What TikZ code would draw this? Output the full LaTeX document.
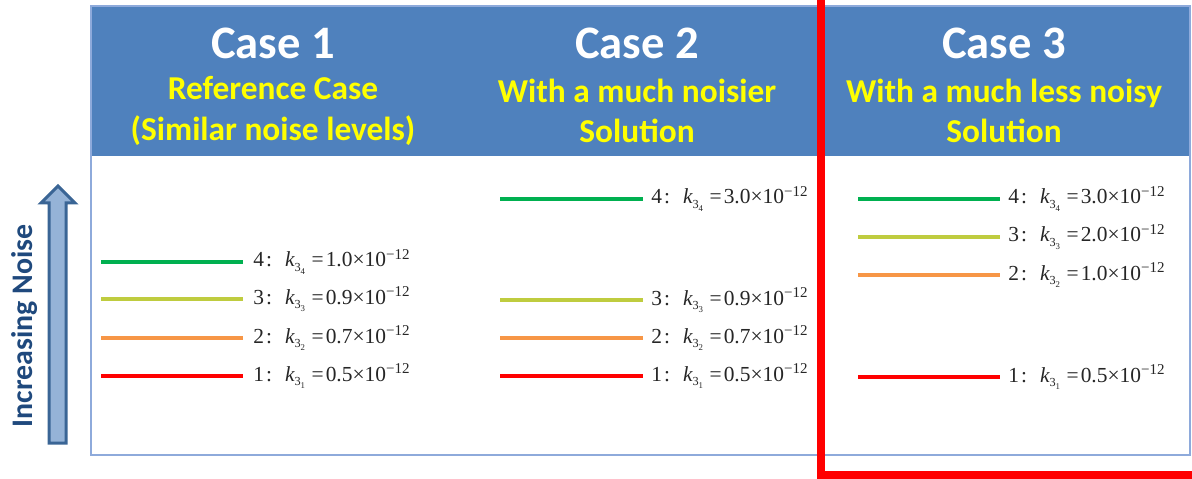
\documentclass[tikz,border=0pt]{standalone}
\usepackage{fontspec}
\setmainfont{Carlito}
\newfontfamily\valfont{Liberation Serif}
\usepackage{tikz}
\usetikzlibrary{positioning}
\definecolor{HeadBlue}{HTML}{4F81BD}
\definecolor{EdgeBlue}{HTML}{8EAADB}
\definecolor{ArrowFill}{HTML}{95B3D7}
\definecolor{ArrowEdge}{HTML}{3A6595}
\definecolor{NoiseText}{HTML}{1F497D}
\definecolor{CaseYellow}{HTML}{FFFF00}
\definecolor{LevelFour}{HTML}{00B050}
\definecolor{LevelThree}{HTML}{BFCC3F}
\definecolor{LevelTwo}{HTML}{F79646}
\definecolor{LevelOne}{HTML}{FF0000}
\newcommand{\kval}[3]{#1\hspace{0.1em}:\hspace{0.6em}{\itshape k}\raisebox{-0.45ex}{\fontsize{7}{7}\selectfont 3\raisebox{-0.5ex}{\fontsize{5}{5}\selectfont #2}}\hspace{0.3em}=\hspace{0.1em}#3×10\textsuperscript{−12}}
\tikzset{
  casetitle/.style={text=white, font=\fontsize{26.5}{30}\selectfont\bfseries},
  casesub/.style={text=CaseYellow, align=center,
    font=\fontsize{19}{23}\selectfont\bfseries},
  value/.style={anchor=base west, inner sep=0pt, text=black!85,
    font=\valfont\fontsize{12.2}{14}\selectfont},
  level/.style={line width=0.08cm},
  noisetext/.style={rotate=90, text=NoiseText, font=\fontsize{17}{20}\selectfont\bfseries}
}

\begin{document}
\begin{tikzpicture}[x=0.02cm, y=-0.02cm]
  \useasboundingbox (0,0) rectangle (1192,479);
  \clip (0,0) rectangle (1192,479);

  % table
  \fill[HeadBlue] (91,6) rectangle (1190,156);
  \draw[EdgeBlue, line width=0.04cm] (91,6) rectangle (1190,455);

  \node[casetitle] (t1) at (273,43) {Case 1};
  \node[casetitle] (t2) at (637,43) {Case 2};
  \node[casetitle] (t3) at (1004,43) {Case 3};
  \node[casesub] (s1) at (273,111) {Reference Case\\(Similar noise levels)};
  \node[casesub] (s2) at (637,111) {With a much noisier\\Solution};
  \node[casesub] (s3) at (1004,111) {With a much less noisy\\Solution};

  % noise arrow
  \draw[fill=ArrowFill, draw=ArrowEdge, line width=0.06cm, line join=miter]
    (49,443) -- (49,203) -- (41,203) -- (58,186) -- (75,203) -- (66,203) -- (66,443) -- cycle;
  \node[noisetext] (noise) at (25,326) {Increasing Noise};

  % case 1
  \draw[level, LevelFour] (101,262) -- (243,262);
  \draw[level, LevelThree] (101,299) -- (243,299);
  \draw[level, LevelTwo] (101,338) -- (243,338);
  \draw[level, LevelOne] (101,376) -- (243,376);
  \node[value] (c1v4) at (253,267) {\kval{4}{4}{1.0}};
  \node[value] (c1v3) at (253,304) {\kval{3}{3}{0.9}};
  \node[value] (c1v2) at (253,343) {\kval{2}{2}{0.7}};
  \node[value] (c1v1) at (253,381) {\kval{1}{1}{0.5}};

  % case 2
  \draw[level, LevelFour] (500,199) -- (643,199);
  \draw[level, LevelThree] (500,300) -- (643,300);
  \draw[level, LevelTwo] (500,338) -- (643,338);
  \draw[level, LevelOne] (500,376) -- (643,376);
  \node[value] (c2v4) at (651,204) {\kval{4}{4}{3.0}};
  \node[value] (c2v3) at (651,305) {\kval{3}{3}{0.9}};
  \node[value] (c2v2) at (651,343) {\kval{2}{2}{0.7}};
  \node[value] (c2v1) at (651,381) {\kval{1}{1}{0.5}};

  % case 3
  \draw[level, LevelFour] (858,199) -- (1000,199);
  \draw[level, LevelThree] (858,237) -- (1000,237);
  \draw[level, LevelTwo] (858,275) -- (1000,275);
  \draw[level, LevelOne] (858,377) -- (1000,377);
  \node[value] (c3v4) at (1008,204) {\kval{4}{4}{3.0}};
  \node[value] (c3v3) at (1008,242) {\kval{3}{3}{2.0}};
  \node[value] (c3v2) at (1008,280) {\kval{2}{2}{1.0}};
  \node[value] (c3v1) at (1008,382) {\kval{1}{1}{0.5}};

  % highlight
  \draw[LevelOne, line width=0.16cm] (821,-20) -- (821,475) -- (1220,475);
\end{tikzpicture}
\end{document}
